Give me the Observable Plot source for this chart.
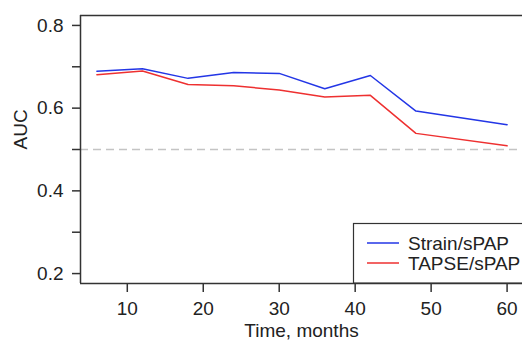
<!DOCTYPE html>
<html>
<head>
<meta charset="utf-8">
<script src="https://cdn.jsdelivr.net/npm/d3@7"></script>
<script src="https://cdn.jsdelivr.net/npm/@observablehq/plot@0.6"></script>
<style>
  html, body { margin: 0; padding: 0; background: white; }
</style>
</head>
<body>
<div id="chart"></div>
<script>
const months = [6, 12, 18, 24, 30, 36, 42, 48, 60];
const strainSPAP = [0.689, 0.695, 0.672, 0.686, 0.684, 0.647, 0.679, 0.593, 0.560];
const tapseSPAP = [0.681, 0.690, 0.657, 0.654, 0.644, 0.627, 0.631, 0.539, 0.509];
const seriesNames = ["Strain/sPAP", "TAPSE/sPAP"];
const seriesColors = ["#2336e6", "#ee3030"];
const xTicks = [10, 20, 30, 40, 50, 60];
const yTicks = [0.2, 0.3, 0.4, 0.5, 0.6, 0.7, 0.8];
const yTickLabels = ["0.2", "", "0.4", "", "0.6", "", "0.8"];
const refLine = [0.5];
const xTitle = ["Time, months"];
const yTitle = ["AUC"];

const data = [];
months.forEach((m, i) => {
  data.push({t: m, auc: strainSPAP[i], series: seriesNames[0]});
  data.push({t: m, auc: tapseSPAP[i], series: seriesNames[1]});
});

// R-style 4% axis expansion
const xr = d3.extent(months);
const xPad = (xr[1] - xr[0]) * 0.04;
const xDomain = [xr[0] - xPad, xr[1] + xPad];
const yr = [0.2, 0.8];
const yPad = (yr[1] - yr[0]) * 0.04;
const yDomain = [yr[0] - yPad, yr[1] + yPad];

const frameColor = "#333";
const textColor = "#222";
const svg = Plot.plot({
  width: 522,
  height: 340,
  marginLeft: 80,
  marginRight: 0,
  marginTop: 15,
  marginBottom: 57,
  style: {fontFamily: "'Liberation Sans', Arial, sans-serif", fontSize: "19px", color: textColor, background: "white"},
  x: {domain: xDomain, range: [80, 523]},
  y: {domain: yDomain},
  color: {domain: seriesNames, range: seriesColors},
  marks: [
    Plot.ruleY(refLine, {stroke: "#c4c4c4", strokeWidth: 1.5, strokeDasharray: "8,5"}),
    Plot.line(data, {x: "t", y: "auc", stroke: "series", strokeWidth: 1.5}),
    Plot.ruleX([xDomain[0]], {stroke: frameColor, strokeWidth: 1.5}),
    Plot.ruleY([yDomain[0]], {stroke: frameColor, strokeWidth: 1.5}),
    Plot.ruleY([yDomain[1]], {stroke: frameColor, strokeWidth: 1.5}),
    Plot.axisX({ticks: xTicks, tickSize: 9, tickPadding: 9, stroke: frameColor, strokeWidth: 1.5,
      label: null, fill: textColor}),
    Plot.axisY({ticks: yTicks, tickSize: 8, tickPadding: 9, stroke: frameColor, strokeWidth: 1.5,
      tickFormat: d => yTickLabels[yTicks.findIndex(v => Math.abs(v - d) < 1e-9)],
      label: null, fill: textColor}),
    Plot.text(xTitle, {text: d => d, frameAnchor: "bottom", dy: 47, lineAnchor: "middle", fill: textColor, fontSize: 19}),
    Plot.text(yTitle, {text: d => d, frameAnchor: "left", dx: -60, rotate: -90, lineAnchor: "middle", fill: textColor, fontSize: 19})
  ]
});

// Legend (bottom-right, R-style box)
const lg = d3.select(svg).append("g").attr("text-anchor", "start");
lg.append("rect").attr("x", 353.5).attr("y", 223.5).attr("width", 200).attr("height", 59.5)
  .attr("fill", "white").attr("stroke", frameColor).attr("stroke-width", 1.2);
seriesNames.forEach((name, i) => {
  const yy = 243 + i * 20;
  lg.append("line").attr("x1", 367).attr("x2", 399).attr("y1", yy).attr("y2", yy)
    .attr("stroke", seriesColors[i]).attr("stroke-width", 1.5);
  lg.append("text").attr("x", 408).attr("y", yy).attr("dy", "0.35em")
    .attr("text-anchor", "start").attr("fill", textColor).attr("font-size", "19px").text(name);
});

document.getElementById("chart").appendChild(svg);
</script>
</body>
</html>
